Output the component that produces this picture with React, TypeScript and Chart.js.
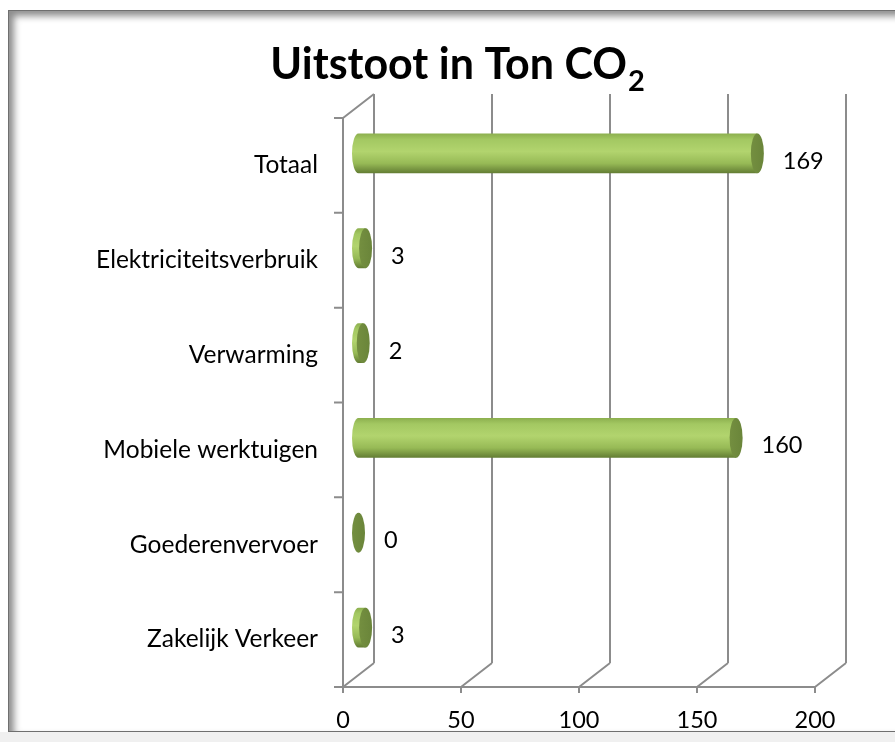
import React, { useEffect, useRef } from "react";
import { Chart, registerables } from "chart.js";

Chart.register(...registerables);

const categories = [
  "Totaal",
  "Elektriciteitsverbruik",
  "Verwarming",
  "Mobiele werktuigen",
  "Goederenvervoer",
  "Zakelijk Verkeer",
];
const values = [169, 3, 2, 160, 0, 3];
const xTicks = [0, 50, 100, 150, 200];
const titleMain = "Uitstoot in Ton CO";
const titleSub = "2";

const DX = 31;
const DY = -24;
const GRID = "#8c8c8c";
const FONT = "Lato, 'Open Sans', sans-serif";
const LABEL_SIZE = 23.5;
const CAT_SIZE = 24.5;

function drawCylinder(ctx: CanvasRenderingContext2D, x0: number, x1: number, cy: number, h: number, rx: number) {
  const ry = h / 2;
  const g = ctx.createLinearGradient(0, cy - ry, 0, cy + ry);
  g.addColorStop(0, "#8caf4e");
  g.addColorStop(0.15, "#a3c862");
  g.addColorStop(0.45, "#b2d46e");
  g.addColorStop(0.75, "#97ba56");
  g.addColorStop(1, "#627c33");
  if (x1 - x0 > 0.5) {
    ctx.save();
    ctx.fillStyle = g;
    ctx.beginPath();
    ctx.ellipse(x0, cy, rx, ry, 0, Math.PI / 2, (3 * Math.PI) / 2);
    ctx.lineTo(x1, cy - ry);
    ctx.lineTo(x1, cy + ry);
    ctx.closePath();
    ctx.fill();
    ctx.restore();
  }
  ctx.save();
  const cg = ctx.createLinearGradient(x1 - rx, 0, x1 + rx, 0);
  cg.addColorStop(0, "#748f40");
  cg.addColorStop(1, "#6a853a");
  ctx.fillStyle = cg;
  ctx.beginPath();
  ctx.ellipse(x1, cy, rx, ry, 0, 0, Math.PI * 2);
  ctx.fill();
  ctx.restore();
}

const wallsPlugin = {
  id: "walls3d",
  beforeDatasetsDraw(chart: any) {
    const ctx: CanvasRenderingContext2D = chart.ctx;
    const xs = chart.scales.x;
    const { left, top, bottom } = chart.chartArea;
    ctx.save();
    ctx.strokeStyle = GRID;
    ctx.lineWidth = 2;
    ctx.lineCap = "butt";
    ctx.beginPath();
    xTicks.forEach((v) => {
      const px = xs.getPixelForValue(v);
      ctx.moveTo(px + DX, top + DY);
      ctx.lineTo(px + DX, bottom + DY);
      ctx.moveTo(px, bottom);
      ctx.lineTo(px + DX, bottom + DY);
      ctx.moveTo(px, bottom);
      ctx.lineTo(px, bottom + 6);
    });
    const x0 = xs.getPixelForValue(xTicks[0]);
    const xN = xs.getPixelForValue(xTicks[xTicks.length - 1]);
    ctx.moveTo(x0, bottom);
    ctx.lineTo(xN, bottom);
    ctx.moveTo(left, top);
    ctx.lineTo(left, bottom);
    ctx.moveTo(left, top);
    ctx.lineTo(left + DX, top + DY);
    const n = categories.length;
    for (let i = 0; i <= n; i++) {
      const y = top + ((bottom - top) * i) / n;
      ctx.moveTo(left - 9, y);
      ctx.lineTo(left, y);
    }
    ctx.stroke();
    ctx.restore();
  },
  afterDatasetsDraw(chart: any) {
    const ctx: CanvasRenderingContext2D = chart.ctx;
    const meta = chart.getDatasetMeta(0);
    const xs = chart.scales.x;
    meta.data.forEach((el: any, i: number) => {
      const p = el.getProps(["x", "y", "base", "height"], true);
      const x0 = xs.getPixelForValue(0) + DX / 2;
      const x1 = p.x + DX / 2;
      const cy = p.y + DY / 2;
      const rx = 6.5;
      drawCylinder(ctx, x0, x1, cy, p.height, rx);
      ctx.save();
      ctx.fillStyle = "#000";
      ctx.font = `${LABEL_SIZE}px ${FONT}`;
      ctx.textAlign = "left";
      ctx.textBaseline = "middle";
      ctx.fillText(String(values[i]), x1 + rx + 19, p.y - 4);
      ctx.restore();
    });
  },
  afterDraw(chart: any) {
    const ctx: CanvasRenderingContext2D = chart.ctx;
    ctx.save();
    ctx.fillStyle = "#000";
    ctx.textBaseline = "alphabetic";
    ctx.font = `bold 43px ${FONT}`;
    const w1 = ctx.measureText(titleMain).width;
    ctx.font = `bold 29px ${FONT}`;
    const w2 = ctx.measureText(titleSub).width;
    const cx = 457;
    const start = cx - (w1 + w2) / 2;
    ctx.font = `bold 43px ${FONT}`;
    ctx.textAlign = "left";
    ctx.fillText(titleMain, start, 79);
    ctx.font = `bold 29px ${FONT}`;
    ctx.fillText(titleSub, start + w1 + 1, 91);
    ctx.restore();
  },
};

export default function App() {
  const ref = useRef<HTMLCanvasElement | null>(null);
  useEffect(() => {
    if (!ref.current) return;
    const chart = new Chart(ref.current, {
      type: "bar",
      data: {
        labels: categories,
        datasets: [
          {
            data: values,
            backgroundColor: "rgba(0,0,0,0)",
            borderWidth: 0,
            categoryPercentage: 1,
            barPercentage: 0.42,
          },
        ],
      },
      options: {
        indexAxis: "y",
        animation: false,
        responsive: false,
        maintainAspectRatio: false,
        layout: { padding: { left: 0, right: 80, top: 118, bottom: 0 } },
        plugins: {
          legend: { display: false },
          title: { display: false },
          tooltip: { enabled: false },
        },
        scales: {
          x: {
            min: 0,
            max: 200,
            grid: { display: false, drawTicks: false },
            border: { display: false },
            ticks: {
              stepSize: 50,
              padding: 19,
              color: "#000",
              font: { family: FONT, size: LABEL_SIZE },
            },
            afterFit: (s: any) => {
              s.height = 55;
            },
          },
          y: {
            grid: { display: false, drawTicks: false },
            border: { display: false },
            ticks: {
              padding: 25,
              color: "#000",
              font: { family: FONT, size: CAT_SIZE },
            },
            afterFit: (s: any) => {
              s.width = 343;
            },
          },
        },
      },
      plugins: [wallsPlugin],
    });
    return () => chart.destroy();
  }, []);

  return (
    <div style={{ position: "fixed", left: 0, top: 0, width: 895, height: 742, background: "#ffffff", overflow: "hidden" }}>
      <div
        style={{
          position: "absolute",
          left: 8,
          top: 10,
          width: 900,
          height: 720,
          border: "1px solid #6f6f6f",
          boxShadow: "inset 5px 5px 7px rgba(0,0,0,0.45)",
          background: "#ffffff",
        }}
      />
      <div style={{ position: "absolute", left: 0, top: 732, width: 895, height: 10, background: "#f0f0f0" }} />
      <canvas ref={ref} width={895} height={742} style={{ position: "absolute", left: 0, top: 0, width: 895, height: 742 }} />
    </div>
  );
}
